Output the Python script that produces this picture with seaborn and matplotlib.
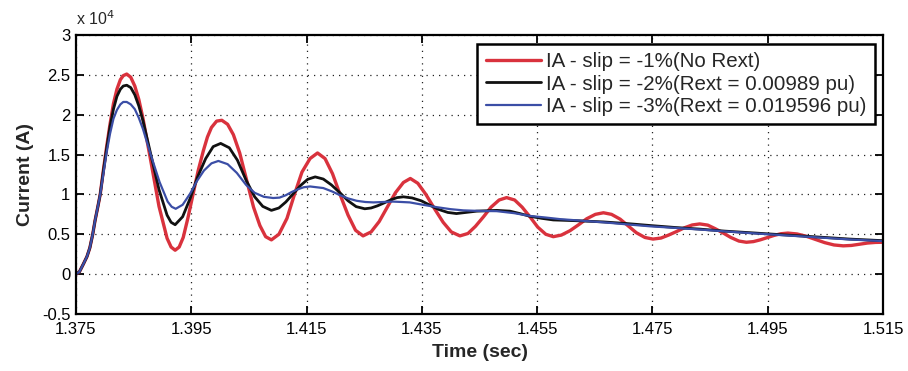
import matplotlib
matplotlib.use("Agg")
import matplotlib.pyplot as plt
import seaborn as sns
import pandas as pd
from matplotlib.ticker import FuncFormatter, FixedLocator

# ---- data (time in s, current in units of 1e4 A) ----
t_red = [1.3750, 1.3756, 1.3763, 1.3769, 1.3774, 1.3779, 1.3783, 1.3788, 1.3792, 1.3798,
         1.3803, 1.3809, 1.3815, 1.3821, 1.3827, 1.3832, 1.3838, 1.3845,
         1.3852, 1.3859, 1.3866, 1.3880, 1.3894, 1.3908, 1.3915, 1.3922,
         1.3929, 1.3936, 1.3944, 1.3953, 1.3962, 1.3971, 1.3978, 1.3985, 1.3994, 1.4003,
         1.4013, 1.4023, 1.4034, 1.4046, 1.4058, 1.4069, 1.4079, 1.4089,
         1.4102, 1.4116, 1.4129, 1.4142, 1.4156, 1.4169,
         1.4182, 1.4195, 1.4208, 1.4222, 1.4235, 1.4248,
         1.4262, 1.4276, 1.4290, 1.4304, 1.4318, 1.4330,
         1.4343, 1.4357, 1.4372, 1.4387, 1.4401, 1.4416,
         1.4430, 1.4443, 1.4457, 1.4470, 1.4484, 1.4497,
         1.4511, 1.4524, 1.4538, 1.4551, 1.4565, 1.4578,
         1.4592, 1.4607, 1.4622, 1.4636, 1.4651, 1.4665,
         1.4679, 1.4694, 1.4708, 1.4722, 1.4737, 1.4751,
         1.4765, 1.4778, 1.4792, 1.4805, 1.4819, 1.4832,
         1.4846, 1.4859, 1.4873, 1.4886, 1.4900, 1.4913,
         1.4925, 1.4937, 1.4949, 1.4961, 1.4973, 1.4985,
         1.5001, 1.5017, 1.5033, 1.5049, 1.5065, 1.5081,
         1.5095, 1.5109, 1.5123, 1.5137, 1.5150]
i_red = [0.00, 0.03, 0.13, 0.22, 0.33, 0.50, 0.67, 0.85, 1.00, 1.33,
         1.59, 1.88, 2.14, 2.32, 2.44, 2.49, 2.51, 2.47,
         2.36, 2.19, 1.96, 1.41, 0.85, 0.45, 0.34, 0.30,
         0.34, 0.46, 0.70, 1.00, 1.30, 1.55, 1.72, 1.84, 1.92, 1.93,
         1.88, 1.75, 1.52, 1.18, 0.84, 0.61, 0.47, 0.43,
         0.50, 0.70, 1.00, 1.28, 1.45, 1.52,
         1.45, 1.26, 1.00, 0.74, 0.55, 0.48,
         0.53, 0.66, 0.84, 1.02, 1.15, 1.20,
         1.14, 1.00, 0.82, 0.65, 0.53, 0.48,
         0.51, 0.60, 0.72, 0.84, 0.93, 0.96,
         0.93, 0.84, 0.715, 0.59, 0.50, 0.47,
         0.49, 0.545, 0.62, 0.695, 0.75, 0.77,
         0.75, 0.69, 0.605, 0.52, 0.46, 0.44,
         0.453, 0.49, 0.535, 0.58, 0.617, 0.63,
         0.615, 0.57, 0.515, 0.46, 0.415, 0.40,
         0.408, 0.43, 0.458, 0.486, 0.507, 0.515,
         0.504, 0.475, 0.435, 0.395, 0.366, 0.355,
         0.36, 0.375, 0.39, 0.398, 0.40]

t_black = [1.3750, 1.3756, 1.3763, 1.3769, 1.3774, 1.3779, 1.3783, 1.3788, 1.3792, 1.3798,
           1.3803, 1.3809, 1.3815, 1.3821, 1.3827, 1.3832, 1.3838, 1.3845,
           1.3852, 1.3859, 1.3866, 1.3880, 1.3894, 1.3908, 1.3915, 1.3922,
           1.3935, 1.3948, 1.3961, 1.3975, 1.3988, 1.4001,
           1.4016, 1.4030, 1.4045, 1.4060, 1.4074, 1.4089,
           1.4102, 1.4114, 1.4127, 1.4140, 1.4152, 1.4165,
           1.4179, 1.4193, 1.4208, 1.4222, 1.4236, 1.4251,
           1.4262, 1.4273, 1.4285, 1.4296, 1.4307, 1.4318,
           1.4333, 1.4349, 1.4364, 1.4379, 1.4395, 1.4410,
           1.4445, 1.4480, 1.4503, 1.4520, 1.4538, 1.4558, 1.4578, 1.4619, 1.4665,
           1.4705, 1.4746, 1.4790, 1.4832, 1.4875, 1.4919, 1.4962, 1.5006, 1.5050,
           1.5092, 1.5150]
i_black = [0.00, 0.03, 0.13, 0.22, 0.33, 0.50, 0.67, 0.85, 1.00, 1.32,
           1.57, 1.85, 2.07, 2.23, 2.32, 2.36, 2.37, 2.34,
           2.25, 2.11, 1.93, 1.495, 1.06, 0.74, 0.65, 0.62,
           0.72, 0.95, 1.22, 1.45, 1.60, 1.64,
           1.585, 1.43, 1.18, 0.97, 0.85, 0.80,
           0.83, 0.905, 1.01, 1.115, 1.19, 1.22,
           1.193, 1.12, 1.02, 0.92, 0.847, 0.82,
           0.83, 0.857, 0.895, 0.932, 0.96, 0.97,
           0.956, 0.92, 0.865, 0.812, 0.774, 0.76,
           0.79, 0.80, 0.79, 0.76, 0.725, 0.70, 0.68, 0.67, 0.655,
           0.635, 0.61, 0.585, 0.565, 0.54, 0.52, 0.50, 0.48, 0.46,
           0.44, 0.42]

t_blue = [1.3750, 1.3756, 1.3763, 1.3769, 1.3774, 1.3779, 1.3783, 1.3788, 1.3792, 1.3798,
          1.3803, 1.3809, 1.3815, 1.3821, 1.3827, 1.3832, 1.3838, 1.3845,
          1.3852, 1.3859, 1.3866, 1.3880, 1.3895, 1.3909, 1.3916, 1.3923,
          1.3935, 1.3948, 1.3960, 1.3972, 1.3985, 1.3997,
          1.4013, 1.4029, 1.4045, 1.4060, 1.4076, 1.4092,
          1.4103, 1.4114, 1.4124, 1.4135, 1.4145, 1.4156,
          1.4179, 1.4195, 1.4208, 1.4222, 1.4237, 1.4252, 1.4266, 1.4283, 1.4300, 1.4315,
          1.4329, 1.4352, 1.4376, 1.4400, 1.4422, 1.4450, 1.4480, 1.4510, 1.4538, 1.4565,
          1.4590, 1.4628, 1.4665, 1.4705, 1.4746, 1.4790, 1.4832, 1.4875, 1.4919, 1.4962,
          1.5006, 1.5050, 1.5092, 1.5150]
i_blue = [0.00, 0.03, 0.13, 0.22, 0.33, 0.50, 0.67, 0.85, 1.00, 1.28,
          1.52, 1.76, 1.95, 2.06, 2.13, 2.16, 2.16, 2.13,
          2.07, 1.96, 1.825, 1.49, 1.155, 0.91, 0.845, 0.82,
          0.87, 1.01, 1.17, 1.30, 1.39, 1.42,
          1.38, 1.27, 1.12, 1.02, 0.97, 0.955,
          0.96, 0.99, 1.03, 1.065, 1.09, 1.10,
          1.08, 1.035, 0.99, 0.95, 0.92, 0.905, 0.90, 0.905, 0.91, 0.905,
          0.90, 0.87, 0.84, 0.815, 0.80, 0.793, 0.79, 0.765, 0.73, 0.71,
          0.69, 0.67, 0.65, 0.625, 0.60, 0.58, 0.56, 0.537, 0.515, 0.495,
          0.475, 0.455, 0.435, 0.415]

labels = ["IA - slip = -1%(No Rext)",
          "IA - slip = -2%(Rext = 0.00989 pu)",
          "IA - slip = -3%(Rext = 0.019596 pu)"]
colors = ["#d9323d", "#111111", "#3b4ea6"]
widths = [2.4, 2.0, 1.6]

x_ticks = [1.375, 1.395, 1.415, 1.435, 1.455, 1.475, 1.495, 1.515]
y_ticks = [-0.5, 0, 0.5, 1, 1.5, 2, 2.5, 3]

# ---- plotting ----
sns.set_theme(style="white")
plt.rcParams['font.family'] = ['Liberation Sans', 'DejaVu Sans']

fig = plt.figure(figsize=(9.08, 3.71), dpi=100)
ax = fig.add_axes([76/908, 1-314/371, (883-76)/908, (314-35)/371])

series = [(t_red, i_red), (t_black, i_black), (t_blue, i_blue)]
for (t, i), lab, c, w in zip(series, labels, colors, widths):
    df = pd.DataFrame({"Time": t, "Current": i})
    sns.lineplot(data=df, x="Time", y="Current", ax=ax, color=c, linewidth=w,
                 label=lab, sort=False, estimator=None,
                 solid_joinstyle="round", solid_capstyle="round")

ax.set_xlim(1.375, 1.515)
ax.set_ylim(-0.5, 3)
ax.xaxis.set_major_locator(FixedLocator(x_ticks))
ax.yaxis.set_major_locator(FixedLocator(y_ticks))
ax.xaxis.set_major_formatter(FuncFormatter(lambda v, p: f"{v:.3f}"))
ax.yaxis.set_major_formatter(FuncFormatter(lambda v, p: f"{v:g}"))

ax.grid(True, color="#222222", linestyle=(0, (1, 4)), linewidth=0.9)
for s in ax.spines.values():
    s.set_visible(True)
    s.set_color("black")
    s.set_linewidth(1.6)
ax.tick_params(axis="both", which="major", direction="in", length=6, width=1.3,
               top=True, right=True, bottom=True, left=True,
               labelsize=12, colors="black", pad=4)
ax.tick_params(axis="x", pad=6)

ax.set_xlabel("Time (sec)", fontsize=14, fontweight="bold", labelpad=5)
ax.set_ylabel("Current (A)", fontsize=14, fontweight="bold", labelpad=6)
ax.text(0.0, 1.025, r"x 10$^4$", transform=ax.transAxes, fontsize=11.5,
        ha="left", va="bottom")

leg = ax.legend(loc="upper right", bbox_to_anchor=(0.990, 0.968), borderaxespad=0,
                fontsize=14.8, frameon=True, fancybox=False, handlelength=2.7,
                handletextpad=0.25, labelspacing=0.17, borderpad=0.4)
leg.get_frame().set_edgecolor("black")
leg.get_frame().set_linewidth(1.8)
leg.get_frame().set_facecolor("white")
leg.get_frame().set_alpha(1.0)

fig.savefig("out.png", dpi=100, facecolor="white")
